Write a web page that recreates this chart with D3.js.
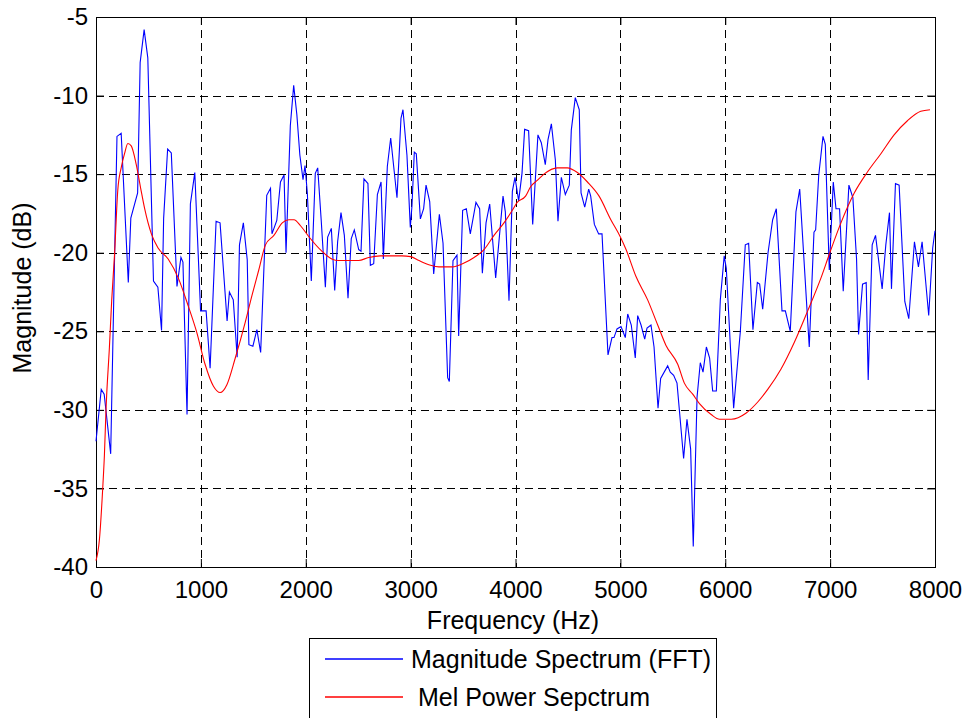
<!DOCTYPE html>
<html>
<head>
<meta charset="utf-8">
<script src="https://cdn.jsdelivr.net/npm/d3@7"></script>
<style>
  body { margin: 0; background: #fff; }
  text { font-family: Arial, "Liberation Sans", sans-serif; fill: #000; }
</style>
</head>
<body>
<div id="chart"></div>
<script>
// FFT magnitude spectrum (Hz, dB)
const fftFreq = [0, 50, 78, 140, 200, 240, 308, 332, 397, 421, 459, 494, 548, 590, 625, 645, 683, 718, 772, 810,
  829, 868, 900, 942, 997, 1050, 1088, 1145, 1183, 1250, 1272, 1309, 1346, 1368, 1405, 1442, 1458, 1496, 1534, 1570,
  1628, 1664, 1678, 1724, 1759, 1793, 1812, 1853, 1885, 1915, 1944, 1974, 1993, 2015, 2053, 2091, 2114, 2148, 2187, 2209,
  2244, 2276, 2304, 2336, 2368, 2403, 2434, 2463, 2505, 2527, 2555, 2593, 2616, 2648, 2683, 2718, 2740, 2778, 2810, 2870,
  2908, 2927, 2965, 2997, 3013, 3035, 3054, 3093, 3124, 3147, 3182, 3220, 3274, 3309, 3353, 3369, 3404, 3442, 3458, 3496,
  3531, 3569, 3623, 3658, 3684, 3719, 3754, 3811, 3881, 3903, 3938, 3970, 3995, 4030, 4062, 4087, 4125, 4164, 4214, 4246,
  4284, 4310, 4342, 4380, 4405, 4437, 4475, 4513, 4532, 4570, 4608, 4625, 4660, 4698, 4717, 4752, 4793, 4825, 4882, 4920,
  4939, 4968, 5006, 5047, 5070, 5104, 5142, 5165, 5197, 5232, 5254, 5292, 5321, 5359, 5384, 5451, 5476, 5508, 5540, 5603,
  5635, 5670, 5695, 5731, 5762, 5788, 5820, 5851, 5880, 5915, 5953, 5990, 6010, 6080, 6144, 6191, 6223, 6264, 6306, 6328,
  6357, 6408, 6452, 6487, 6541, 6573, 6620, 6674, 6710, 6801, 6846, 6862, 6891, 6932, 6954, 6992, 7030, 7056, 7090, 7125,
  7179, 7217, 7252, 7271, 7309, 7344, 7363, 7401, 7433, 7496, 7531, 7566, 7585, 7623, 7658, 7712, 7750, 7804, 7842, 7877,
  7940, 7978, 8000];
const fftMag = [-32.0, -28.7, -29.0, -32.8, -12.6, -12.4, -21.9, -17.8, -16.2, -7.9, -5.8, -7.6, -21.8, -22.2, -24.95, -17.8, -13.4, -13.65, -22.15, -20.3,
  -20.6, -30.3, -16.9, -14.9, -23.7, -23.7, -27.35, -18.0, -18.1, -24.35, -22.5, -23.0, -26.65, -19.5, -18.1, -20.45, -25.85, -25.95, -24.9, -26.35,
  -16.35, -15.9, -18.8, -17.95, -15.5, -15.05, -20.0, -11.9, -9.35, -11.2, -13.8, -15.35, -14.45, -16.2, -21.8, -14.95, -14.6, -18.0, -22.2, -19.0,
  -18.45, -22.4, -19.3, -17.45, -18.9, -22.9, -19.1, -18.55, -19.8, -19.9, -15.3, -15.6, -20.8, -20.7, -16.3, -15.5, -20.4, -14.5, -12.7, -16.5,
  -11.45, -10.9, -13.8, -18.4, -17.0, -13.6, -13.7, -17.85, -17.2, -15.7, -16.75, -21.35, -17.55, -19.4, -27.95, -28.2, -20.5, -20.15, -25.3, -17.3,
  -17.2, -18.8, -16.8, -17.2, -21.3, -18.1, -16.9, -21.6, -16.4, -17.4, -23.05, -16.1, -15.2, -16.7, -14.95, -12.15, -12.23, -18.2, -12.5, -13.0,
  -14.4, -12.8, -11.8, -14.1, -18.0, -15.2, -16.3, -15.7, -12.2, -10.13, -10.9, -16.2, -17.1, -15.95, -16.4, -18.2, -18.8, -18.8, -26.5, -25.4,
  -25.4, -24.85, -24.7, -25.4, -23.9, -24.6, -26.7, -24.0, -24.6, -25.5, -24.8, -24.6, -26.0, -29.9, -28.0, -27.2, -27.6, -27.8, -28.3, -33.1,
  -30.6, -32.5, -38.7, -29.2, -27.0, -27.6, -26.0, -26.7, -28.8, -28.8, -23.0, -20.2, -21.0, -29.9, -25.0, -19.5, -19.4, -24.9, -21.9, -22.0,
  -23.6, -20.0, -17.9, -17.2, -23.7, -23.7, -25.0, -17.4, -15.95, -26.0, -18.7, -18.55, -15.1, -12.6, -13.1, -21.1, -15.5, -17.2, -17.2, -22.45,
  -15.7, -16.5, -20.4, -25.2, -22.0, -21.9, -28.1, -19.5, -18.9, -22.3, -19.5, -17.45, -22.3, -15.6, -15.7, -23.1, -24.2, -19.3, -20.9, -19.3,
  -24.0, -19.7, -18.6];

// Mel power spectrum (Hz, dB)
const melFreq = [0, 32, 64, 80, 96, 128, 150, 176, 208, 240, 272, 304, 336, 384, 426, 464, 528, 592, 688, 784,
  880, 960, 1040, 1120, 1184, 1248, 1328, 1424, 1488, 1552, 1616, 1696, 1776, 1840, 1888, 1952, 2032, 2153, 2249, 2313,
  2504, 2600, 2711, 2917, 3000, 3080, 3190, 3270, 3400, 3495, 3605, 3700, 3795, 3890, 3970, 4016, 4096, 4144, 4207, 4271,
  4399, 4494, 4590, 4686, 4797, 4909, 5000, 5054, 5148, 5260, 5356, 5435, 5547, 5610, 5690, 5754, 5866, 5946, 6057, 6200,
  6310, 6405, 6532, 6659, 6786, 6913, 6992, 7103, 7230, 7357, 7484, 7610, 7737, 7864, 7952];
const melMag = [-39.6, -38.3, -35.0, -32.9, -29.9, -26.0, -23.0, -20.2, -16.0, -14.6, -13.7, -13.05, -13.2, -14.4, -15.9, -17.2, -18.8, -19.7, -20.4, -21.6,
  -23.4, -25.05, -27.1, -28.5, -28.9, -28.4, -26.7, -24.4, -22.7, -21.1, -19.5, -18.9, -18.1, -17.9, -17.9, -18.3, -19.0, -19.9, -20.4, -20.5,
  -20.5, -20.3, -20.2, -20.2, -20.25, -20.5, -20.8, -20.9, -20.9, -20.7, -20.3, -19.8, -18.9, -18.1, -17.3, -16.8, -16.4, -15.8, -15.4, -15.0,
  -14.6, -14.6, -14.9, -15.5, -16.4, -17.9, -19.0, -19.8, -21.5, -23.0, -24.6, -25.9, -27.1, -28.3, -29.0, -29.6, -30.3, -30.6, -30.6, -30.2,
  -29.5, -28.7, -27.4, -25.7, -23.7, -21.6, -20.1, -18.1, -16.2, -14.85, -13.7, -12.5, -11.6, -11.0, -10.9];

const xTicks = [0, 1000, 2000, 3000, 4000, 5000, 6000, 7000, 8000];
const yTicks = [-40, -35, -30, -25, -20, -15, -10, -5];
const seriesNames = ["Magnitude Spectrum (FFT)", " Mel Power Sepctrum"];
const seriesColors = ["#0000ff", "#ff0000"];

const width = 965, height = 718;
const margin = { left: 96, right: 30, top: 17, bottom: 151 };

const svg = d3.select("#chart")
  .append("svg")
  .attr("width", width)
  .attr("height", height);

const x = d3.scaleLinear().domain([0, 8000]).range([margin.left, width - margin.right]);
const y = d3.scaleLinear().domain([-40, -5]).range([height - margin.bottom, margin.top]);

const x0 = x.range()[0], x1 = x.range()[1];
const y0 = y.range()[0], y1 = y.range()[1];

// dashed grid
svg.append("g")
  .selectAll("line")
  .data(xTicks.slice(1, -1))
  .join("line")
  .attr("x1", d => Math.round(x(d)) + 0.5).attr("x2", d => Math.round(x(d)) + 0.5)
  .attr("y1", y1).attr("y2", y0)
  .attr("stroke", "#000").attr("stroke-dasharray", "8,5").attr("stroke-width", 1);

svg.append("g")
  .selectAll("line")
  .data(yTicks.slice(1, -1))
  .join("line")
  .attr("y1", d => Math.round(y(d)) + 0.5).attr("y2", d => Math.round(y(d)) + 0.5)
  .attr("x1", x0).attr("x2", x1)
  .attr("stroke", "#000").attr("stroke-dasharray", "8,5").attr("stroke-width", 1);

// axes, ticks pointing inward
const tickLen = 8;
svg.append("g")
  .attr("transform", `translate(0,${y0})`)
  .call(d3.axisBottom(x).tickValues(xTicks).tickSize(-tickLen).tickPadding(14).tickFormat(d3.format("d")));
svg.append("g")
  .attr("transform", `translate(0,${y1})`)
  .call(d3.axisTop(x).tickValues(xTicks).tickSize(-tickLen).tickFormat(""));
svg.append("g")
  .attr("transform", `translate(${x0},0)`)
  .call(d3.axisLeft(y).tickValues(yTicks).tickSize(-tickLen).tickPadding(8).tickFormat(d => String(d)));
svg.append("g")
  .attr("transform", `translate(${x1},0)`)
  .call(d3.axisRight(y).tickValues(yTicks).tickSize(-tickLen).tickFormat(""));

svg.selectAll(".tick text").attr("font-size", 24).attr("font-family", "Arial, 'Liberation Sans', sans-serif");
svg.selectAll(".domain").attr("stroke", "#000");

// frame
svg.append("rect")
  .attr("x", x0 + 0.5).attr("y", y1 + 0.5)
  .attr("width", x1 - x0).attr("height", y0 - y1)
  .attr("fill", "none").attr("stroke", "#000");

// lines
const fftData = fftFreq.map((f, i) => [f, fftMag[i]]);
const melData = melFreq.map((f, i) => [f, melMag[i]]);

const fftLine = d3.line().x(d => x(d[0])).y(d => y(d[1]));
const melLine = d3.line().x(d => x(d[0])).y(d => y(d[1])).curve(d3.curveMonotoneX);

svg.append("path")
  .datum(fftData)
  .attr("fill", "none")
  .style("stroke", seriesColors[0])
  .attr("stroke-width", 1.1)
  .attr("d", fftLine);

svg.append("path")
  .datum(melData)
  .attr("fill", "none")
  .style("stroke", seriesColors[1])
  .attr("stroke-width", 1.1)
  .attr("d", melLine);

// axis labels
svg.append("text")
  .attr("x", 513).attr("y", 629)
  .attr("text-anchor", "middle").attr("font-size", 25)
  .text("Frequency (Hz)");

svg.append("text")
  .attr("transform", "translate(31,288) rotate(-90)")
  .attr("text-anchor", "middle").attr("font-size", 25)
  .text("Magnitude (dB)");

// legend
const legend = svg.append("g").attr("class", "legend");
legend.append("rect")
  .attr("x", 309.5).attr("y", 638.5)
  .attr("width", 407).attr("height", 100)
  .attr("fill", "#fff").attr("stroke", "#000");

const items = legend.selectAll("g.item")
  .data(seriesNames)
  .join("g")
  .attr("class", "item")
  .attr("transform", (d, i) => `translate(0,${659 + i * 38})`);

items.append("path")
  .attr("d", "M325,0H403")
  .attr("fill", "none")
  .style("stroke", (d, i) => seriesColors[i])
  .style("stroke-width", "1.5px");

items.append("text")
  .attr("x", 411).attr("y", 9)
  .attr("font-size", 25)
  .attr("xml:space", "preserve")
  .style("white-space", "pre")
  .text(d => d);
</script>
</body>
</html>
